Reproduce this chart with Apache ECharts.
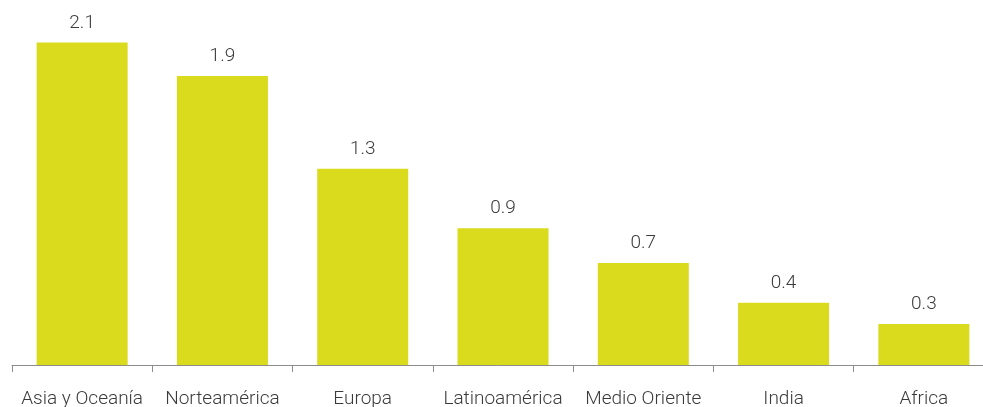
<!DOCTYPE html>
<html>
<head>
<meta charset="utf-8">
<script src="https://cdn.jsdelivr.net/npm/echarts@6/dist/echarts.min.js"></script>
<style>
  html, body { margin: 0; padding: 0; background: #fff; }
  #chart { width: 983px; height: 407px; }
</style>
</head>
<body>
<div id="chart"></div>
<script>
  // regiones
  var categories = ['Asia y Oceanía', 'Norteamérica', 'Europa', 'Latinoamérica', 'Medio Oriente', 'India', 'Africa'];
  // valores (etiquetas redondeadas a 1 decimal)
  var values = [2.12, 1.90, 1.29, 0.90, 0.67, 0.41, 0.27];

  var chart = echarts.init(document.getElementById('chart'));
  var font = 'Roboto';

  chart.setOption({
    animation: false,
    grid: {left: 12, right: -11, top: 0, bottom: 42, containLabel: false, outerBoundsMode: 'none'},
    xAxis: {
      type: 'category',
      data: categories,
      axisLine: {lineStyle: {color: '#8c8c8c', width: 1}},
      axisTick: {show: true, length: 7, lineStyle: {color: '#8c8c8c'}},
      axisLabel: {color: '#3a3a3a', fontFamily: font, fontWeight: 300, fontSize: 19, margin: 25, interval: 0}
    },
    yAxis: {
      type: 'value',
      min: 0,
      max: 2.4,
      show: false,
      splitLine: {show: false}
    },
    series: [{
      type: 'bar',
      data: values,
      barWidth: 91,
      itemStyle: {color: '#d9db1c'},
      label: {
        show: true,
        position: 'top',
        distance: 10,
        color: '#3a3a3a',
        fontFamily: font,
        fontWeight: 300,
        fontSize: 19,
        formatter: function (p) { return p.value.toFixed(1); }
      }
    }]
  });
</script>
</body>
</html>
